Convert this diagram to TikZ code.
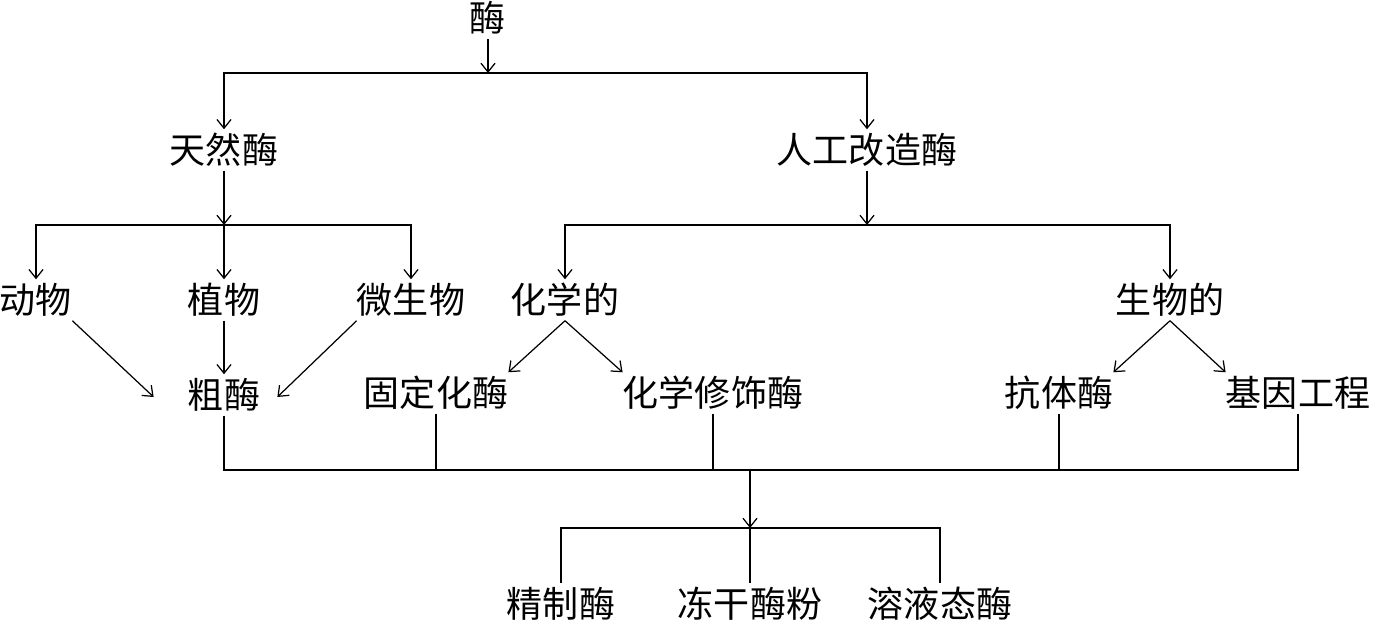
\documentclass[tikz,border=0pt]{standalone}
\usepackage{fontspec}
\newfontfamily\cjk{Noto Sans CJK SC}
\usetikzlibrary{arrows.meta,calc}
\begin{document}
\begin{tikzpicture}[x=0.02cm,y=-0.02cm,
  lbl/.style={font=\cjk\fontsize{20.5pt}{24pt}\selectfont, inner xsep=0pt, inner ysep=2pt, text height=17.5pt, text depth=1.7pt},
  conn/.style={line width=0.7pt},
  arr/.style={conn, -{Straight Barb[length=5pt,width=8pt,line width=0.7pt]}}]
\useasboundingbox (0,0) rectangle (1373,622);
% nodes
\node[lbl] (mei) at (488,18) {酶};
\node[lbl] (tianran) at (224,150) {天然酶};
\node[lbl] (rengong) at (867,150) {人工改造酶};
\node[lbl] (dongwu) at (36,300) {动物};
\node[lbl] (zhiwu) at (224,300) {植物};
\node[lbl] (weisheng) at (411,300) {微生物};
\node[lbl] (huaxue) at (565,300) {化学的};
\node[lbl] (shengwu) at (1170,300) {生物的};
\node[lbl] (cumei) at (224,395) {粗酶};
\node[lbl] (guding) at (436,393) {固定化酶};
\node[lbl] (xiushi) at (713,393) {化学修饰酶};
\node[lbl] (kangti) at (1059,393) {抗体酶};
\node[lbl] (jiyin) at (1298,393) {基因工程};
\node[lbl] (jingzhi) at (561,604) {精制酶};
\node[lbl] (donggan) at (750,604) {冻干酶粉};
\node[lbl] (rongye) at (940,604) {溶液态酶};
% junctions
\coordinate (j1) at (488,73);
\coordinate (j2) at (224,225);
\coordinate (j3) at (867,225);
\coordinate (j4) at (750,470);
\coordinate (j5) at (750,528);
% top level
\draw[arr] (mei) -- (j1);
\draw[arr] (j1) -| (tianran.north);
\draw[arr] (j1) -| (rengong.north);
% natural enzymes
\draw[arr] (tianran) -- (j2);
\draw[arr] (j2) -| (dongwu.north);
\draw[arr] (j2) -- (zhiwu.north);
\draw[arr] (j2) -| (weisheng.north);
% artificial enzymes
\draw[arr] (rengong) -- (j3);
\draw[arr] (j3) -| (huaxue.north);
\draw[arr] (j3) -| (shengwu.north);
% to crude enzyme
\draw[arr] (dongwu.south east) -- ($(cumei.west)+(-34,2)$);
\draw[arr] (zhiwu) -- (cumei);
\draw[arr] (weisheng.south west) -- ($(cumei.east)+(17,2)$);
% chemical / biological
\draw[arr] (huaxue.south) -- (guding.north east);
\draw[arr] (huaxue.south) -- (xiushi.north west);
\draw[arr] (shengwu.south) -- (kangti.north east);
\draw[arr] (shengwu.south) -- (jiyin.north west);
% bottom bus
\draw[conn] (cumei.south) |- (j4);
\draw[conn] (jiyin.south) |- (j4);
\draw[conn] (guding.south) -- (guding.south |- j4);
\draw[conn] (xiushi.south) -- (xiushi.south |- j4);
\draw[conn] (kangti.south) -- (kangti.south |- j4);
\draw[arr] (j4) -- (j5);
\draw[conn] (j5) -| (jingzhi.north);
\draw[conn] (j5) -- (donggan.north);
\draw[conn] (j5) -| (rongye.north);
\end{tikzpicture}
\end{document}
